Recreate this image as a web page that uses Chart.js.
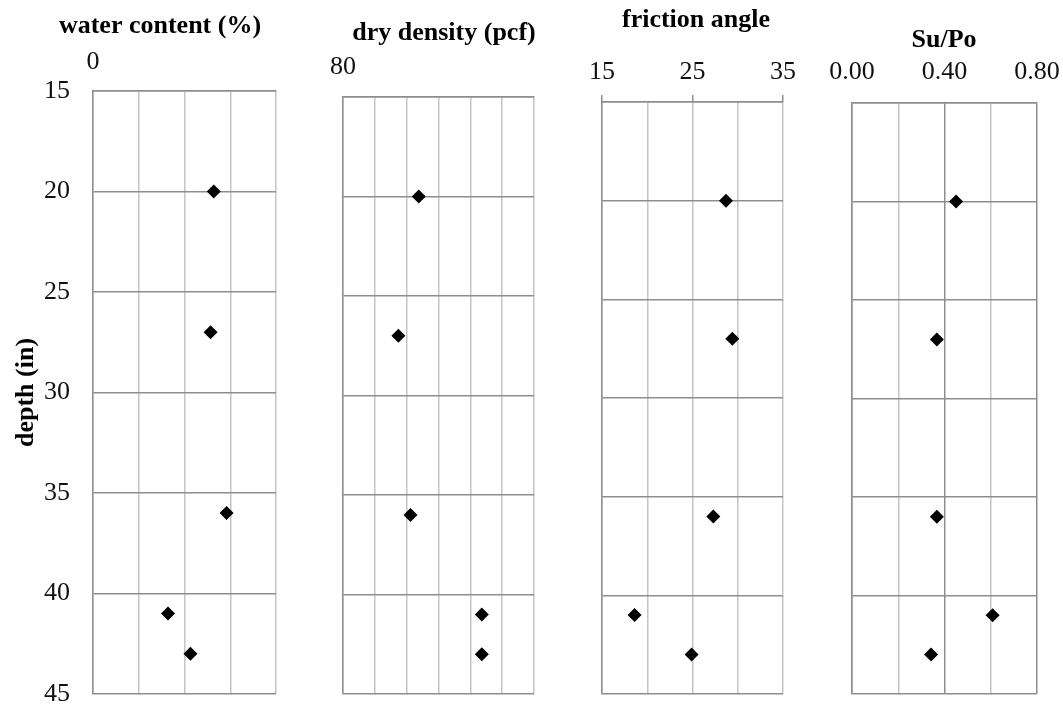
<!DOCTYPE html>
<html>
<head>
<meta charset="utf-8">
<script src="https://cdn.jsdelivr.net/npm/chart.js@4.4.0/dist/chart.umd.min.js"></script>
<style>
  body { margin: 0; background: #fff; }
  #wrap { position: relative; width: 1063px; height: 706px; }
  .panel { position: absolute; top: 0; }
</style>
</head>
<body>
<div id="wrap">
  <canvas class="panel" id="waterChart" width="300" height="706" style="left:0"></canvas>
  <canvas class="panel" id="densityChart" width="260" height="706" style="left:300px"></canvas>
  <canvas class="panel" id="frictionChart" width="250" height="706" style="left:560px"></canvas>
  <canvas class="panel" id="suPoChart" width="253" height="706" style="left:810px"></canvas>
</div>
<script>
// depth of each sample (in)
const depth = [20, 27, 36, 41, 43];

// measured values at each depth
const waterContent = [26.4, 25.7, 29.2, 16.4, 21.3];
const dryDensity = [91.9, 88.7, 90.6, 101.8, 101.8];
const frictionAngle = [28.7, 29.4, 27.3, 18.6, 24.9];
const suPo = [0.45, 0.367, 0.367, 0.608, 0.342];

// which x ticks carry a label
const waterLabels = [0];
const densityLabels = [80];
const frictionLabels = [15, 25, 35];
const suPoLabels = [0, 0.4, 0.8];

Chart.defaults.font.family = '"Liberation Serif", "Times New Roman", serif';
Chart.defaults.color = '#111';

const LIGHT = '#c4c4c4';
const DARK = '#8e8e8e';

const isLabeled = (list, v) => list.some(l => Math.abs(l - v) < 1e-6);

// draws the panel heading where the original sits
const panelTitle = {
    id: 'panelTitle',
    afterDraw(chart, args, opts) {
        const ctx = chart.ctx;
        ctx.save();
        ctx.font = 'bold 26px "Liberation Serif"';
        ctx.fillStyle = '#000';
        ctx.textAlign = 'center';
        ctx.textBaseline = 'middle';
        ctx.fillText(opts.text, opts.x, opts.y);
        ctx.restore();
    }
};

function makePanel(id, cfg) {
    const labels = cfg.labels;
    return new Chart(document.getElementById(id), {
        type: 'scatter',
        data: {
            datasets: [{
                data: cfg.values.map((v, i) => ({ x: v, y: depth[i] })),
                pointStyle: 'rectRot',
                pointRadius: 7,
                pointHoverRadius: 7,
                backgroundColor: '#000',
                borderColor: '#000',
                borderWidth: 0
            }]
        },
        options: {
            responsive: false,
            animation: false,
            layout: { padding: { right: cfg.padRight, bottom: 12 } },
            plugins: {
                legend: { display: false },
                tooltip: { enabled: false },
                panelTitle: cfg.title
            },
            scales: {
                x: {
                    type: 'linear',
                    position: 'top',
                    min: cfg.min,
                    max: cfg.max,
                    afterFit: s => {
                        s.height = cfg.top;
                        s.paddingLeft = 0;
                        s.paddingRight = 0;
                    },
                    ticks: {
                        stepSize: cfg.step,
                        autoSkip: false,
                        maxRotation: 0,
                        padding: cfg.tickPad,
                        font: { size: 26, lineHeight: 1 },
                        callback: v => isLabeled(labels, v) ? cfg.format(v) : ''
                    },
                    grid: {
                        color: c => (cfg.darkX && isLabeled(cfg.darkX, c.tick.value)) ? DARK : LIGHT,
                        lineWidth: 1.5,
                        drawTicks: !!cfg.tickMarks,
                        tickLength: 7,
                        tickColor: c => isLabeled(labels, c.tick.value) ? DARK : 'rgba(0,0,0,0)',
                        tickWidth: 1.5
                    },
                    border: { color: DARK, width: 1.5 }
                },
                y: {
                    type: 'linear',
                    reverse: true,
                    min: 15,
                    max: 45,
                    afterFit: s => {
                        s.width = cfg.left;
                        s.paddingTop = 0;
                        s.paddingBottom = 0;
                    },
                    ticks: {
                        stepSize: 5,
                        display: !!cfg.depthAxis,
                        padding: 23,
                        font: { size: 26, lineHeight: 1 }
                    },
                    title: {
                        display: !!cfg.depthAxis,
                        text: 'depth (in)',
                        color: '#000',
                        font: { size: 26, weight: 'bold' },
                        padding: { top: 11, bottom: 0 }
                    },
                    grid: { color: DARK, lineWidth: 1.5, drawTicks: false },
                    border: { color: DARK, width: 1.5 }
                }
            }
        },
        plugins: [panelTitle]
    });
}

makePanel('waterChart', {
    values: waterContent, labels: waterLabels,
    min: 0, max: 40, step: 10, format: v => String(v),
    left: 93, top: 91, padRight: 24, tickPad: 16, depthAxis: true,
    title: { text: 'water content (%)', x: 160, y: 26 }
});

makePanel('densityChart', {
    values: dryDensity, labels: densityLabels,
    min: 80, max: 110, step: 5, format: v => String(v),
    left: 43, top: 97, padRight: 26, tickPad: 17,
    title: { text: 'dry density (pcf)', x: 144, y: 33 }
});

makePanel('frictionChart', {
    values: frictionAngle, labels: frictionLabels,
    min: 15, max: 35, step: 5, format: v => String(v),
    left: 42, top: 102, padRight: 27, tickPad: 10, tickMarks: true,
    title: { text: 'friction angle', x: 136, y: 20 }
});

makePanel('suPoChart', {
    values: suPo, labels: suPoLabels,
    min: 0, max: 0.8, step: 0.2, format: v => v.toFixed(2),
    left: 42, top: 103, padRight: 26, tickPad: 18, darkX: [0, 0.4, 0.8],
    title: { text: 'Su/Po', x: 134, y: 40 }
});
</script>
</body>
</html>
